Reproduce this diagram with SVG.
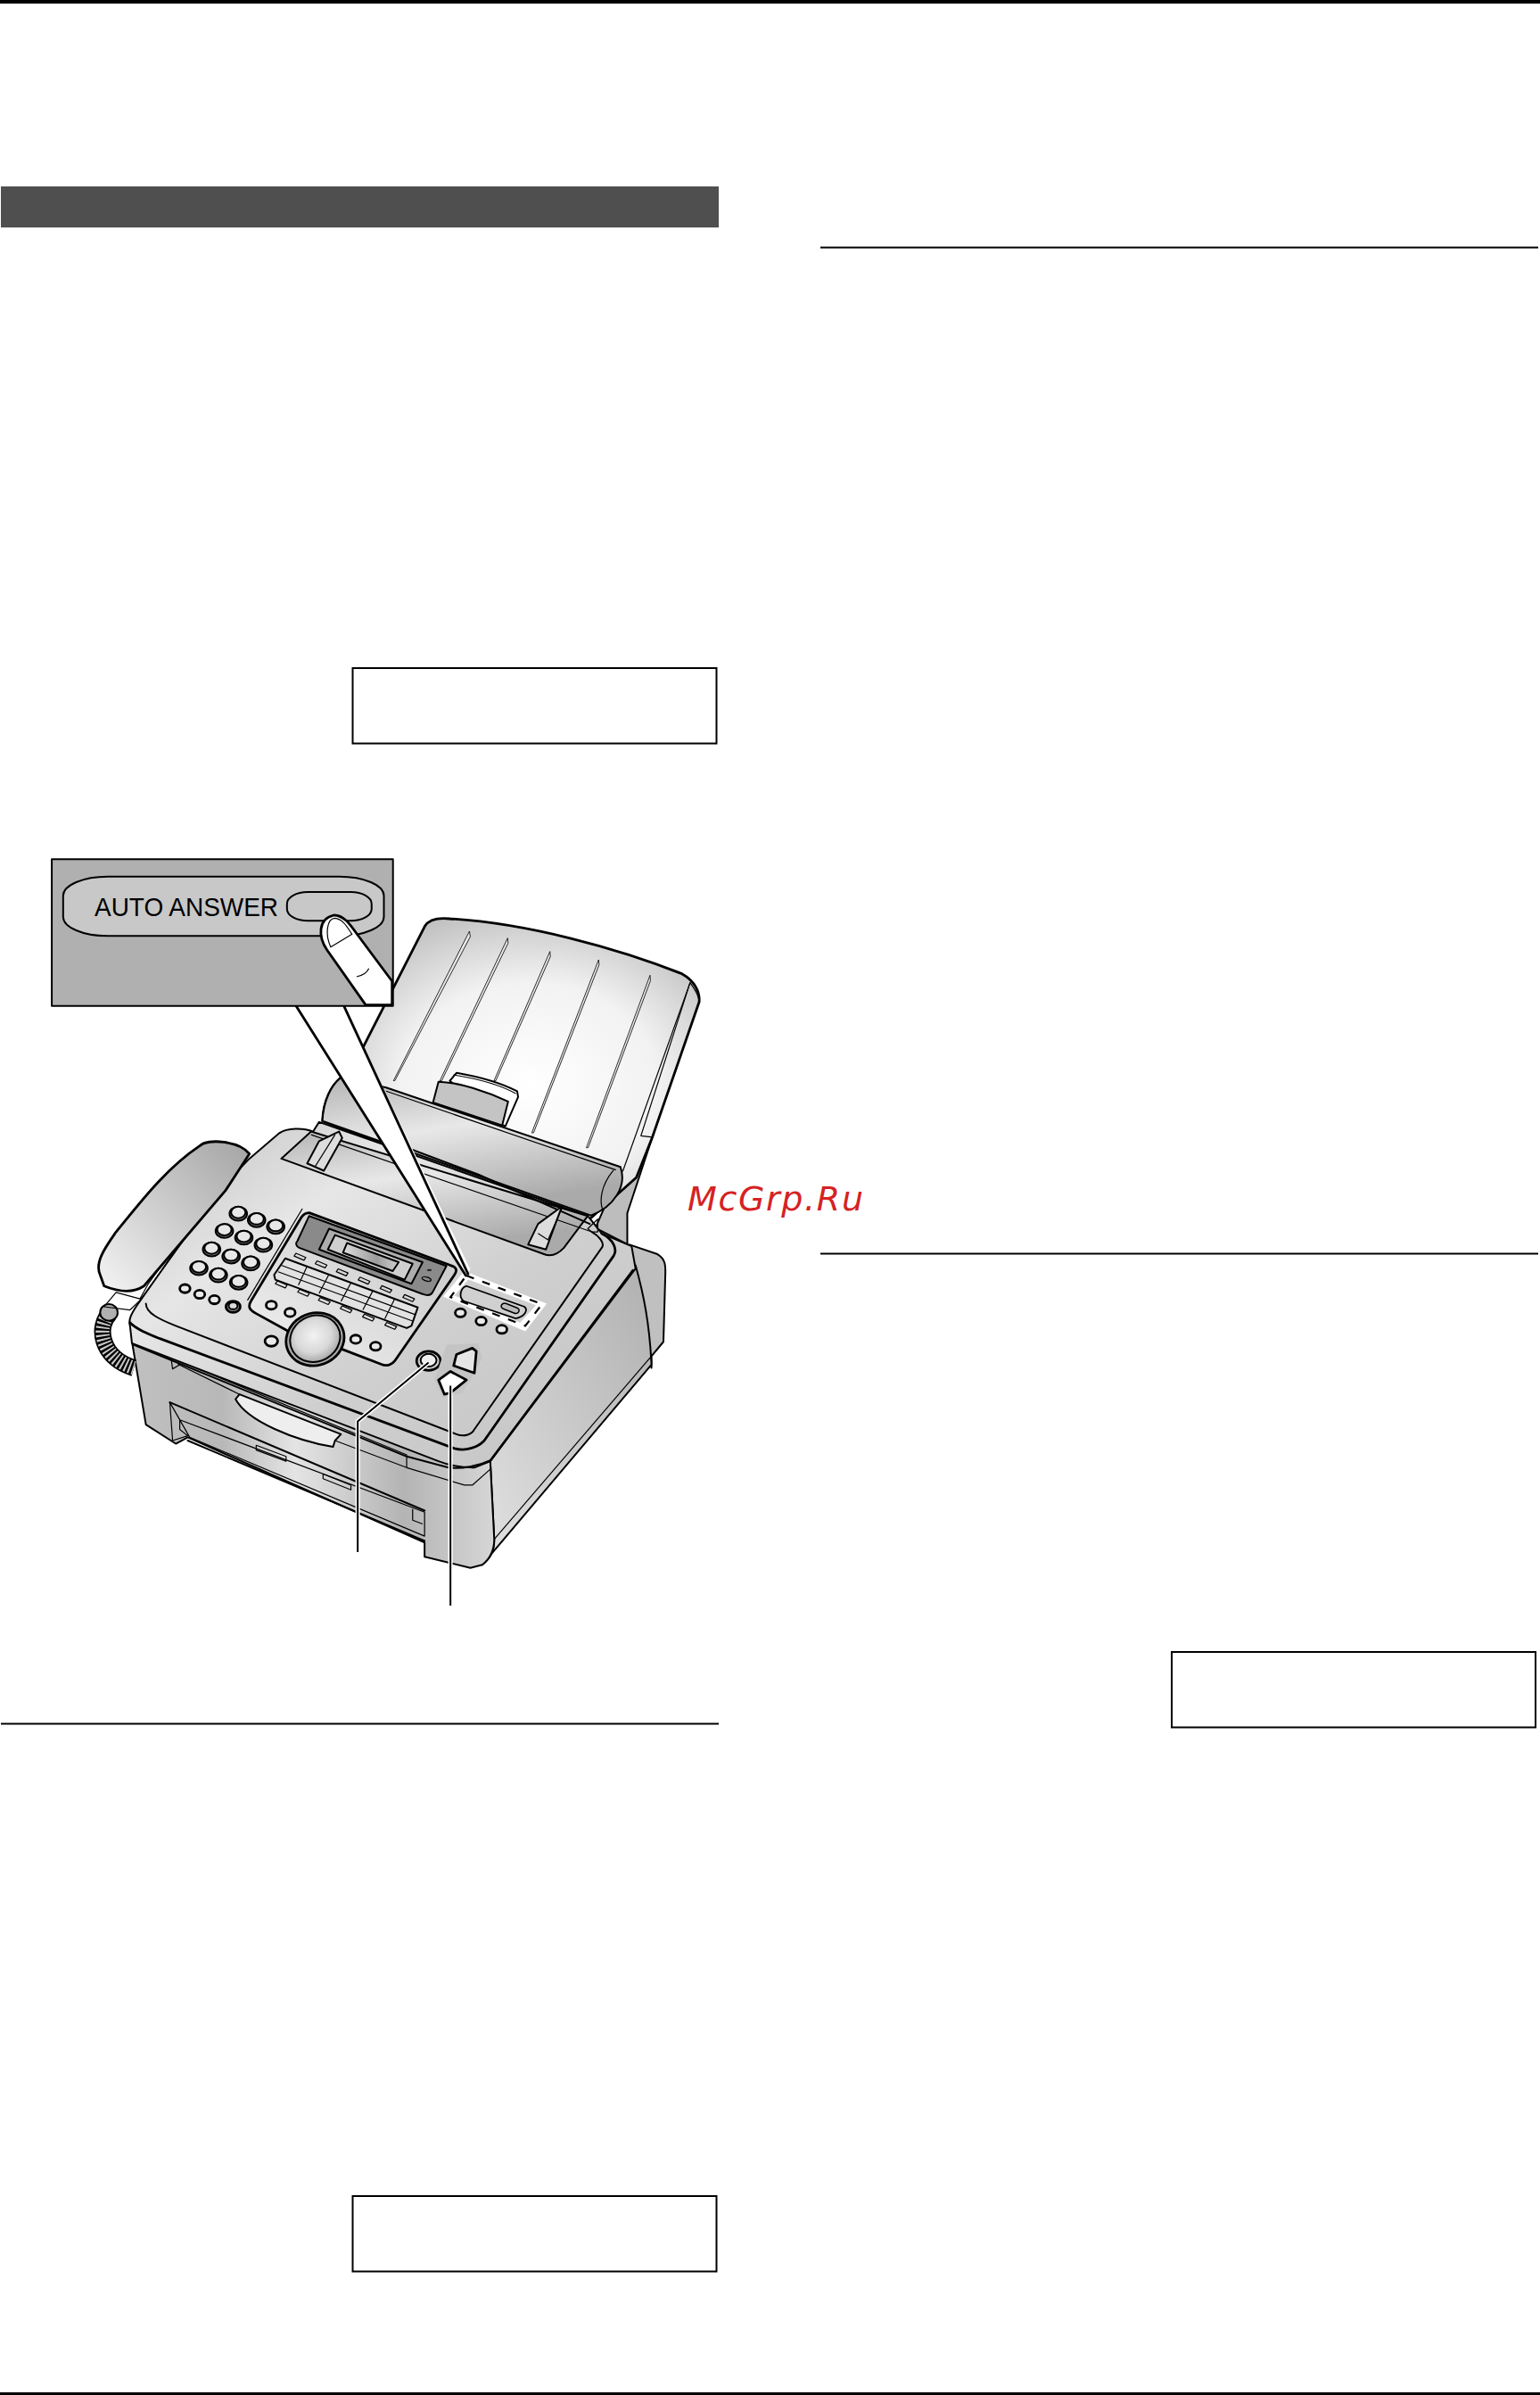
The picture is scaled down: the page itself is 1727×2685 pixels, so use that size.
<svg xmlns="http://www.w3.org/2000/svg" xmlns:xlink="http://www.w3.org/1999/xlink" width="1727" height="2685" viewBox="0 0 1727 2685">
<style>
path,circle,ellipse,rect,line,polygon,polyline{vector-effect:non-scaling-stroke}
.s{stroke:#000;stroke-width:2;stroke-linejoin:round;stroke-linecap:round}
.t{stroke:#000;stroke-width:1.2;stroke-linejoin:round;fill:none}
.n{fill:none}
.h{stroke:#000;stroke-width:2.8;stroke-linejoin:round;stroke-linecap:round}
</style>
<defs>
<radialGradient id="gTray" cx=".55" cy=".55" r=".62"><stop offset="0" stop-color="#fff"/><stop offset=".55" stop-color="#f2f2f2"/><stop offset="1" stop-color="#bcbcbc"/></radialGradient>
<linearGradient id="gBand" x1="0" y1="0" x2=".35" y2="1"><stop offset="0" stop-color="#b4b4b4"/><stop offset=".45" stop-color="#e8e8e8"/><stop offset="1" stop-color="#aaa"/></linearGradient>
<linearGradient id="gTop" x1="0" y1="0" x2="1" y2="1"><stop offset="0" stop-color="#bfbfbf"/><stop offset=".3" stop-color="#e6e6e6"/><stop offset=".6" stop-color="#cfcfcf"/><stop offset="1" stop-color="#c4c4c4"/></linearGradient>
<linearGradient id="gSide" x1="0" y1="1" x2="1" y2="0"><stop offset="0" stop-color="#e2e2e2"/><stop offset="1" stop-color="#b0b0b0"/></linearGradient>
<linearGradient id="gFront" x1="0" y1="0" x2="1" y2="0"><stop offset="0" stop-color="#c0c0c0"/><stop offset=".25" stop-color="#b8b8b8"/><stop offset=".45" stop-color="#e4e4e4"/><stop offset=".75" stop-color="#b4b4b4"/><stop offset="1" stop-color="#d6d6d6"/></linearGradient>
<linearGradient id="gHand" x1="0" y1="1" x2="1" y2="0"><stop offset="0" stop-color="#f4f4f4"/><stop offset="1" stop-color="#a4a4a4"/></linearGradient>
<linearGradient id="gPanel" x1="0" y1="1" x2="1" y2="0"><stop offset="0" stop-color="#f2f2f2"/><stop offset="1" stop-color="#c4c4c4"/></linearGradient>
<linearGradient id="gLcd" x1="0" y1="0" x2="1" y2="0"><stop offset="0" stop-color="#ddd"/><stop offset=".6" stop-color="#9c9c9c"/><stop offset="1" stop-color="#d0d0d0"/></linearGradient>
<radialGradient id="gDial" cx=".45" cy=".45" r=".6"><stop offset="0" stop-color="#f2f2f2"/><stop offset=".6" stop-color="#d8d8d8"/><stop offset="1" stop-color="#a0a0a0"/></radialGradient>
<g id="key"><circle r="22" cy="2" fill="#777" class="s"/><circle r="18" cy="-2" fill="#e8e8e8" class="s"/></g>
<g id="sm"><circle r="13" fill="#eaeaea" class="h"/></g>
<rect id="slot" x="-14" y="-5" width="28" height="10" fill="#d4d4d4" class="t" transform="rotate(28)"/>
</defs>

<g id="page">
<rect x="0" y="0" width="1727" height="2685" fill="#fff"/>
<rect x="0" y="0" width="1727" height="4" fill="#000"/>
<rect x="1" y="209" width="805" height="46" fill="#4f4f4f"/>
<rect x="920" y="276.500" width="805" height="2" fill="#000"/>
<rect x="920" y="1404.500" width="805" height="2" fill="#000"/>
<rect x="1" y="1931.500" width="805" height="2" fill="#000"/>
<rect x="0" y="2682" width="1727" height="3" fill="#000"/>
</g>

<g id="display-boxes" fill="#fff" stroke="#000" stroke-width="2">
<rect x="395.500" y="749" width="408" height="84.500"/>
<rect x="1314" y="1852" width="408" height="84.500"/>
<rect x="395.500" y="2462" width="408" height="84.500"/>
</g>

<g id="paper-tray" transform="translate(30,940) scale(.5102,.3333)">
<path d="M1375,1005L1320,1260L1320,1365L1250,1310L1310,1100Z" fill="#bdbdbd" class="s"/>
<path d="M650,950C652,880 670,830 690,805L740,700L875,295C885,270 905,266 930,270C1100,285 1300,370 1440,455C1470,480 1480,520 1478,550L1375,1005L1340,1140L1230,1290L650,950Z" fill="url(#gTray)" class="h"/>
<path d="M1458,485C1470,510 1478,530 1478,550L1375,1005L1350,1000Z" fill="#c4c4c4" class="t"/>
<path d="M1458,485L1310,1120" class="t"/>
<g fill="#e8e8e8" stroke="#000" stroke-width=".8">
<polygon points="973,312 806,815 809,815 975,330"/>
<polygon points="1057,335 908,815 912,815 1058,352"/>
<polygon points="1150,380 1027,815 1031,815 1151,397"/>
<polygon points="1257,408 1110,990 1114,990 1258,425"/>
<polygon points="1370,460 1230,1040 1234,1040 1371,478"/>
</g>
<path d="M690,805C670,830 652,880 650,950L1240,1268C1290,1240 1320,1170 1305,1105L790,838Z" fill="url(#gBand)" class="s"/>
<path d="M790,850L1295,1115" class="t"/>
<path d="M1290,1115C1260,1170 1260,1220 1265,1245" class="t"/>
<path d="M930,815L945,788C990,800 1040,820 1078,850L1080,870L1052,968L1040,960Z" fill="#fff" class="s"/>
<path d="M938,795C990,808 1040,828 1075,858" class="t"/>
<path d="M905,818C950,820 1010,850 1058,885L1045,965L893,888Z" fill="#c4c4c4" class="s"/>
</g>

<g id="fax-body" transform="translate(90,1240) scale(.4464,.3571)">
<path d="M1380,435L1450,465C1470,480 1470,500 1470,520L1465,740L1435,785L1435,822L1395,510Z" fill="#c0c0c0" class="s"/>
<path d="M1030,1115L1395,500C1415,590 1430,680 1435,812L1010,1440C1030,1420 1040,1400 1040,1360Z" fill="url(#gSide)" class="s"/>
<path d="M1040,1360L1435,785" class="t"/>
<path d="M130,740L165,1000L240,1060L270,1040L865,1370L865,1415L980,1450L1010,1440C1030,1420 1040,1390 1040,1360L1030,1115L985,1135Z" fill="url(#gFront)" class="s"/>
<path d="M820,1135L965,1190L985,1190L1030,1140" class="t"/>
<path d="M228,790L820,1095L820,1135L640,1050" class="t"/>
<path d="M228,790L232,825L250,812" class="t"/>
<path d="M245,810L400,905" class="t"/>
<path d="M390,920L400,905L655,1030L640,1050L635,1070C540,1050 420,990 390,920Z" fill="#eee" class="s"/>
<path d="M225,930L232,1050L270,1035L250,1015L250,985L865,1275L865,1350L275,1040Z" fill="#bbb" class="t"/>
<path d="M225,930L865,1270" class="s"/>
<path d="M270,1050L865,1365" class="s"/>
<polygon points="442,1065 517,1100 517,1115 442,1080" fill="#999" class="t"/>
<polygon points="610,1155 680,1190 680,1205 610,1170" fill="#999" class="t"/>
<path d="M835,1265L835,1300L860,1312" class="t"/>

<path d="M125,690C120,670 130,650 140,630L340,275L425,165L500,85C520,68 560,68 585,80L600,50L1275,345L1310,400L1385,440L1395,510L1030,1115L990,1135C960,1135 930,1130 900,1115L130,745Z" fill="url(#gTop)" class="s"/>
<path d="M135,750L820,1100L925,1135C960,1140 1000,1130 1030,1112L1388,515" fill="none" class="s"/>
<path d="M125,680C140,700 170,715 200,730L940,1075C970,1085 1000,1070 1015,1050L1340,470C1350,450 1340,420 1310,400" class="h n"/>
<path d="M165,620C165,650 200,670 240,690L945,1030C965,1040 985,1030 990,1015L1310,445C1320,430 1300,405 1285,395" class="s n"/>

<path d="M505,165L580,80L1275,345L1215,445C1200,465 1185,475 1165,465Z" fill="url(#gBand)" class="s"/>
<path d="M580,90L1285,395" class="t"/>
<path d="M830,135L1000,215L1280,370" class="s n"/>
<path d="M570,180L600,110L650,80L658,100L612,203Z" fill="#ddd" class="s"/>
<path d="M590,190L640,90" class="t"/>
<path d="M1125,435L1150,370L1210,315L1170,450Z" fill="#ddd" class="s"/>
<path d="M1150,400L1175,420L1210,320" class="t"/>
<polygon points="1275,385 1300,355 1300,395 1285,395" fill="#999" class="t"/>

<path d="M75,650C40,690 50,790 135,822" fill="none" stroke="#000" stroke-width="19"/>
<path d="M75,650C40,690 50,790 135,822" fill="none" stroke="#c8c8c8" stroke-width="15.500" stroke-dasharray="2 2.400"/>
<ellipse cx="72" cy="648" rx="22" ry="26" fill="#b0b0b0" class="s"/>
<path d="M355,280L330,280L170,560L150,605L90,585L60,630L125,640L150,610L345,275Z" fill="#c9c9c9" class="t"/>
<path d="M50,530C35,490 65,440 90,395C140,320 210,200 300,125C320,100 400,110 425,150L365,265L160,565C130,590 90,580 60,565Z" fill="url(#gHand)" class="h"/>

<use xlink:href="#key" x="397" y="336"/><use xlink:href="#key" x="443" y="356"/><use xlink:href="#key" x="491" y="377"/>
<use xlink:href="#key" x="362" y="390"/><use xlink:href="#key" x="411" y="411"/><use xlink:href="#key" x="460" y="434"/>
<use xlink:href="#key" x="330" y="448"/><use xlink:href="#key" x="379" y="470"/><use xlink:href="#key" x="428" y="492"/>
<use xlink:href="#key" x="298" y="507"/><use xlink:href="#key" x="347" y="529"/><use xlink:href="#key" x="398" y="552"/>
<use xlink:href="#sm" x="263" y="573"/><use xlink:href="#sm" x="300" y="591"/><use xlink:href="#sm" x="337" y="608"/>
<circle cx="384" cy="630" r="18" fill="#888" class="h"/><circle cx="384" cy="627" r="11" fill="#ddd" class="s"/>

<path d="M558,322L420,610" class="t"/>
<path d="M575,335L930,500C945,505 948,515 940,530L790,800C780,815 770,818 755,810L655,762C620,745 560,720 520,705L440,650C425,640 420,630 430,610L555,350C560,340 565,335 575,335Z" fill="url(#gPanel)" class="h"/>
<path d="M575,345L920,502L885,585C880,595 870,595 860,590L550,445C542,440 540,430 545,425Z" fill="#8a8a8a" class="s"/>
<path d="M625,385L860,490L832,558L600,450Z" fill="#adadad" class="s"/>
<path d="M640,405L835,495L815,545L622,450Z" fill="#cfcfcf" class="s"/>
<path d="M670,430L800,490L785,518L660,460Z" fill="url(#gLcd)" class="s"/>
<ellipse cx="877" cy="515" rx="6" ry="3" fill="#222"/>
<ellipse cx="870" cy="543" rx="12" ry="6" fill="#ccc" class="t" transform="rotate(20 870 543)"/>
<use xlink:href="#slot" x="552" y="473"/><use xlink:href="#slot" x="605" y="497"/><use xlink:href="#slot" x="658" y="522"/><use xlink:href="#slot" x="713" y="548"/><use xlink:href="#slot" x="768" y="575"/><use xlink:href="#slot" x="825" y="603"/>
<use xlink:href="#slot" x="505" y="560"/><use xlink:href="#slot" x="561" y="586"/><use xlink:href="#slot" x="613" y="612"/><use xlink:href="#slot" x="668" y="638"/><use xlink:href="#slot" x="724" y="664"/><use xlink:href="#slot" x="780" y="690"/>
<path d="M515,478L848,632L832,690L820,697L490,545L487,530Z" fill="#e2e2e2" class="s"/>
<path d="M505,500L842,655M497,520L835,675M570,503L548,562M625,528L600,588M680,555L655,613M735,580L710,640M790,605L765,668" class="t"/>
<use xlink:href="#sm" x="480" y="625"/><use xlink:href="#sm" x="527" y="648"/><use xlink:href="#sm" x="692" y="732"/><use xlink:href="#sm" x="742" y="754"/>
<circle cx="480" cy="738" r="16" fill="#eaeaea" class="h"/>
<ellipse cx="590" cy="732" rx="72" ry="84" fill="#aaa" class="h" transform="rotate(15 590 732)"/>
<ellipse cx="590" cy="730" rx="62" ry="74" fill="url(#gDial)" class="s" transform="rotate(15 590 730)"/>

<polygon points="965,518 1172,620 1118,707 912,598" fill="#fff"/>
<polygon points="975,545 1145,625 1105,680 940,595" fill="#cfcfcf"/>
<path d="M970,532L1160,622L1118,690L930,600Z" fill="none" stroke="#000" stroke-width="2.200" stroke-dasharray="9 10"/>
<path d="M970,565L1116,630C1125,640 1118,660 1094,667L963,612C950,600 955,570 970,565Z" fill="#d0d0d0" stroke="#000" stroke-width="1.800"/>
<rect x="-24" y="-9" rx="9" width="48" height="18" fill="#bcbcbc" stroke="#000" stroke-width="1.500" transform="translate(1080,635) rotate(26)"/>
<use xlink:href="#sm" x="955" y="649"/><use xlink:href="#sm" x="1007" y="675"/><use xlink:href="#sm" x="1059" y="701"/>

<circle cx="875" cy="800" r="30" fill="#ccc" class="h"/>
<circle cx="875" cy="798" r="20" fill="#eee" class="s"/>
<path d="M920,750L1000,745L1010,790L985,850L960,900L910,915L890,860Z" fill="#c4c4c4"/>
<path d="M945,780L985,760L995,770L990,838L938,815Z" fill="#e6e6e6" class="h"/>
<path d="M930,833L970,860L930,900L915,905L900,860Z" fill="#fff" class="h"/>
</g>

<g id="callout" transform="translate(30,940) scale(.5102,.3333)">
<path d="M592,563L965,1470L975,1450L697,563Z" fill="#fff"/>
<path d="M592,563L965,1470M697,563L970,1465" class="h n"/>
<rect x="55" y="70" width="750" height="493" fill="#b0b0b0" class="s"/>
<rect x="80" y="128" width="705" height="200" rx="98" ry="65" fill="#c8c8c8" class="s"/>
<rect x="572" y="180" width="186" height="97" rx="46" ry="40" fill="#c8c8c8" class="s"/>
<path d="M745,560L660,375C640,330 640,270 675,258C700,258 715,300 730,330L803,480L803,560Z" fill="#fff" class="h"/>
<path d="M668,365C655,320 660,270 677,268C695,270 705,300 715,322Z" fill="#fff" class="t"/>
<path d="M725,465C740,460 748,450 752,437" class="t"/>
</g>
<text id="auto-answer" x="106" y="1027" font-family="'Liberation Sans',Arial,sans-serif" font-size="30" textLength="206" lengthAdjust="spacingAndGlyphs" fill="#000">AUTO ANSWER</text>

<g id="connectors" fill="none" transform="translate(90,1240) scale(.4464,.3571)">
<path d="M875,805L697,990L697,1400M930,878L930,1568" stroke="#fff" stroke-width="5"/>
<path d="M875,805L697,990L697,1400M930,878L930,1568" stroke="#000" stroke-width="2"/>
</g>

<text id="watermark" x="771" y="1356.500" font-family="'DejaVu Sans',sans-serif" font-style="italic" font-size="38" textLength="197" lengthAdjust="spacing" fill="#d52222">McGrp.Ru</text>
</svg>
